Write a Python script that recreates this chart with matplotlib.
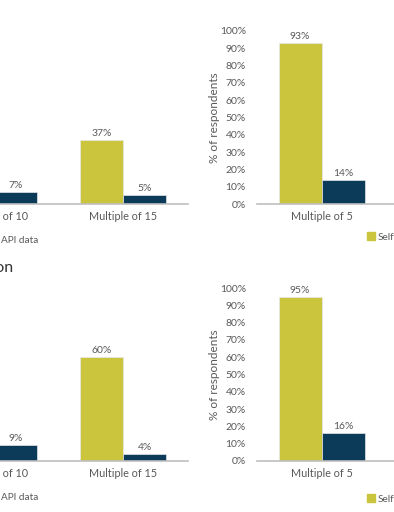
import numpy as np
import matplotlib
matplotlib.use('Agg')
import matplotlib.pyplot as plt
from matplotlib.patches import Patch

plt.rcParams['font.family'] = ['Lato', 'DejaVu Sans']

# data (nan = bar not visible in this view)
cats = ['Multiple of 5', 'Multiple of 10', 'Multiple of 15']
top_left_self = [np.nan, np.nan, 37]
top_left_api = [np.nan, 7, 5]
top_right_self = [93, np.nan, np.nan]
top_right_api = [14, np.nan, np.nan]
bot_left_self = [np.nan, np.nan, 60]
bot_left_api = [np.nan, 9, 4]
bot_right_self = [95, np.nan, np.nan]
bot_right_api = [16, np.nan, np.nan]
legend_names = ['Self-reported', 'API data']

yellow = '#CBC43D'
navy = '#0C3A59'
grey = '#595959'

W, H = 394, 512
fig = plt.figure(figsize=(W / 100, H / 100), dpi=100)


def panel(x0, base, s_vals, a_vals, yaxis):
    ax = fig.add_axes([x0 / W, (H - base) / H, 388 / W, 173 / H])
    x = np.arange(len(cats))
    w = 0.333
    b1 = ax.bar(x - w / 2, s_vals, w, color=yellow, edgecolor='#e8e8e8', linewidth=0.5)
    b2 = ax.bar(x + w / 2, a_vals, w, color=navy, edgecolor='#e8e8e8', linewidth=0.5)
    for bars in (b1, b2):
        for r in bars:
            h = r.get_height()
            if not np.isnan(h):
                ax.text(r.get_x() + r.get_width() / 2, h + 1.2, '%d%%' % h,
                        ha='center', va='bottom', fontsize=7.5, color=grey)
    ax.set_xlim(-0.5, 2.5)
    ax.set_ylim(0, 100)
    ax.set_xticks(x)
    ax.set_xticklabels(cats, fontsize=7.8, color=grey)
    ax.tick_params(axis='both', length=0, pad=5)
    for s in ['top', 'right', 'left']:
        ax.spines[s].set_visible(False)
    ax.spines['bottom'].set_color('#BFBFBF')
    ax.spines['bottom'].set_linewidth(1.2)
    if yaxis:
        ax.set_yticks(range(0, 101, 10))
        ax.set_yticklabels(['%d%%' % v for v in range(0, 101, 10)], fontsize=7.5, color=grey)
        ax.tick_params(axis='y', pad=8)
        ax.set_ylabel('% of respondents', fontsize=8.5, color=grey, labelpad=0)
    else:
        ax.set_yticks([])
    return ax


panel(-200, 204, top_left_self, top_left_api, False)
panel(257, 204, top_right_self, top_right_api, True)
panel(-200, 461, bot_left_self, bot_left_api, False)
panel(257, 461, bot_right_self, bot_right_api, True)

handles = [Patch(color=yellow), Patch(color=navy)]
leg_kw = dict(frameon=False, fontsize=7.2, handlelength=0.75, handleheight=0.75,
              handletextpad=0.3, columnspacing=1.5, ncol=2, labelcolor=grey,
              borderpad=0, borderaxespad=0)
for y in (240, 497):
    fig.legend(handles, legend_names, loc='center right',
               bbox_to_anchor=(38 / W, 1 - y / H), **leg_kw)
for y in (237, 499):
    fig.legend(handles, legend_names, loc='center left',
               bbox_to_anchor=(367 / W, 1 - y / H), **leg_kw)

fig.text(13 / W, 1 - 268 / H, 'Second question', fontsize=11.5, color='#333333',
         ha='right', va='center')

fig.savefig('out.png', dpi=100)
